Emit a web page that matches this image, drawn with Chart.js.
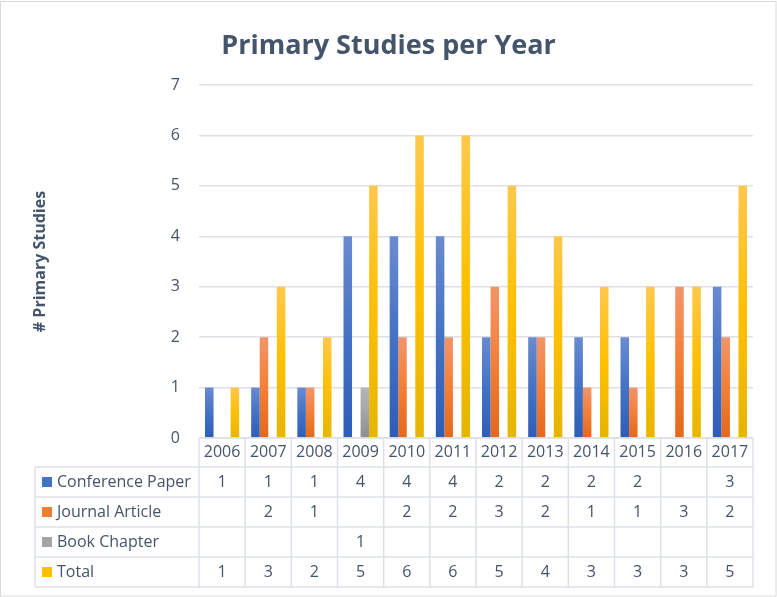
<!DOCTYPE html>
<html>
<head>
<meta charset="utf-8">
<script src="https://cdn.jsdelivr.net/npm/chart.js@4/dist/chart.umd.min.js"></script>
<style>
  html, body { margin: 0; padding: 0; background: #ffffff; }
  #wrap { position: relative; width: 777px; height: 597px; }
  canvas { display: block; }
</style>
</head>
<body>
<div id="wrap"><canvas id="c" width="777" height="597"></canvas></div>
<script>
// ---- Data ----
const years = ['2006','2007','2008','2009','2010','2011','2012','2013','2014','2015','2016','2017'];
const conferencePaper = [1, 1, 1, 4, 4, 4, 2, 2, 2, 2, null, 3];
const journalArticle  = [null, 2, 1, null, 2, 2, 3, 2, 1, 1, 3, 2];
const bookChapter     = [null, null, null, 1, null, null, null, null, null, null, null, null];
const total           = [1, 3, 2, 5, 6, 6, 5, 4, 3, 3, 3, 5];
const seriesNames = ['Conference Paper', 'Journal Article', 'Book Chapter', 'Total'];
const yTicks = [0, 1, 2, 3, 4, 5, 6, 7];

const FONT = "'Open Sans', 'DejaVu Sans', sans-serif";
const TEXT = '#44546a';
const LINE = '#dde1e7';

// colors: [top, mid, bottom]
const palette = [
  { solid: '#4472c4', grad: ['#6a8bd0', '#4472c4', '#2e5db8'] },
  { solid: '#ed7d31', grad: ['#f2956a', '#f47f36', '#e2681c'] },
  { solid: '#a5a5a5', grad: ['#b6b6b6', '#a5a5a5', '#8e8e8e'] },
  { solid: '#ffc000', grad: ['#ffc84c', '#ffc000', '#e6b400'] }
];

function gradientFill(idx) {
  return function (ctx) {
    const chart = ctx.chart;
    const ys = chart.scales && chart.scales.y;
    if (!ys || ctx.raw == null || ctx.type !== 'data') return palette[idx].solid;
    const top = ys.getPixelForValue(ctx.raw);
    const base = ys.getPixelForValue(0);
    if (!isFinite(top) || !isFinite(base) || top === base) return palette[idx].solid;
    const g = chart.ctx.createLinearGradient(0, top, 0, base);
    g.addColorStop(0, palette[idx].grad[0]);
    g.addColorStop(0.5, palette[idx].grad[1]);
    g.addColorStop(1, palette[idx].grad[2]);
    return g;
  };
}

const seriesData = [conferencePaper, journalArticle, bookChapter, total];

const tablePlugin = {
  id: 'dataTable',
  afterDraw(chart) {
    const ctx = chart.ctx;
    const { left, right, bottom } = chart.chartArea;
    const n = years.length;
    const colW = (right - left) / n;
    const headerBottom = bottom + 29;
    const rowH = 30;
    const legendLeft = 35;
    const tableBottom = headerBottom + rowH * seriesNames.length;

    ctx.save();
    ctx.strokeStyle = LINE;
    ctx.lineWidth = 1.5;
    // horizontal lines
    ctx.beginPath();
    ctx.moveTo(left, bottom); ctx.lineTo(right, bottom);
    for (let r = 0; r <= seriesNames.length; r++) {
      const y = headerBottom + r * rowH;
      ctx.moveTo(legendLeft, y); ctx.lineTo(right, y);
    }
    // vertical lines
    for (let i = 0; i <= n; i++) {
      const x = left + i * colW;
      ctx.moveTo(x, bottom); ctx.lineTo(x, tableBottom);
    }
    ctx.moveTo(legendLeft, headerBottom); ctx.lineTo(legendLeft, tableBottom);
    ctx.stroke();

    // cells
    ctx.fillStyle = TEXT;
    ctx.font = '16px ' + FONT;
    ctx.textBaseline = 'middle';
    for (let r = 0; r < seriesNames.length; r++) {
      const yMid = headerBottom + r * rowH + rowH / 2;
      // legend swatch + label
      ctx.fillStyle = palette[r].solid;
      ctx.fillRect(legendLeft + 7, yMid - 5, 10, 10);
      ctx.fillStyle = TEXT;
      ctx.textAlign = 'left';
      ctx.fillText(seriesNames[r], legendLeft + 22, yMid);
      ctx.textAlign = 'center';
      for (let i = 0; i < n; i++) {
        const v = seriesData[r][i];
        if (v == null) continue;
        ctx.fillText(String(v), chart.scales.x.getPixelForValue(i), yMid);
      }
    }

    // outer border
    ctx.strokeStyle = '#d9d9d9';
    ctx.lineWidth = 1;
    ctx.strokeRect(0.5, 1.5, chart.width - 1.5, chart.height - 2.5);
    ctx.restore();
  }
};

const chart = new Chart(document.getElementById('c'), {
  type: 'bar',
  data: {
    labels: years,
    datasets: seriesNames.map((name, i) => ({
      label: name,
      data: seriesData[i],
      backgroundColor: gradientFill(i),
      borderWidth: 0,
      categoryPercentage: 0.74,
      barPercentage: 1.0
    }))
  },
  options: {
    responsive: false,
    animation: false,
    devicePixelRatio: 1,
    layout: { padding: 0 },
    plugins: {
      legend: { display: false },
      tooltip: { enabled: false },
      title: {
        display: true,
        text: 'Primary Studies per Year',
        color: TEXT,
        font: { family: FONT, size: 27, weight: 'bold', lineHeight: 1.2 },
        padding: { top: 30, bottom: 22.6 }
      }
    },
    scales: {
      x: {
        grid: { display: false, drawTicks: false },
        border: { display: false },
        ticks: { color: TEXT, font: { family: FONT, size: 16 }, padding: 5, maxRotation: 0, autoSkip: false },
        afterFit(scale) { scale.height = 597 - 438; }
      },
      y: {
        min: 0,
        max: 7,
        afterBuildTicks(scale) { scale.ticks = yTicks.map(v => ({ value: v })); },
        grid: { color: LINE, lineWidth: 1.5, drawTicks: false },
        border: { display: false },
        ticks: { color: TEXT, font: { family: FONT, size: 16 }, padding: 19 },
        title: {
          display: true,
          text: '# Primary Studies',
          color: TEXT,
          font: { family: FONT, size: 16, weight: 'bold', lineHeight: 1.2 },
          padding: { top: 31, bottom: 0 }
        },
        afterFit(scale) { scale.width = 199; }
      },
      ySpacer: {
        position: 'right',
        min: 0,
        max: 7,
        grid: { display: false, drawTicks: false },
        border: { display: false },
        ticks: { display: false },
        afterFit(scale) { scale.width = 24; }
      }
    }
  },
  plugins: [tablePlugin]
});
</script>
</body>
</html>
